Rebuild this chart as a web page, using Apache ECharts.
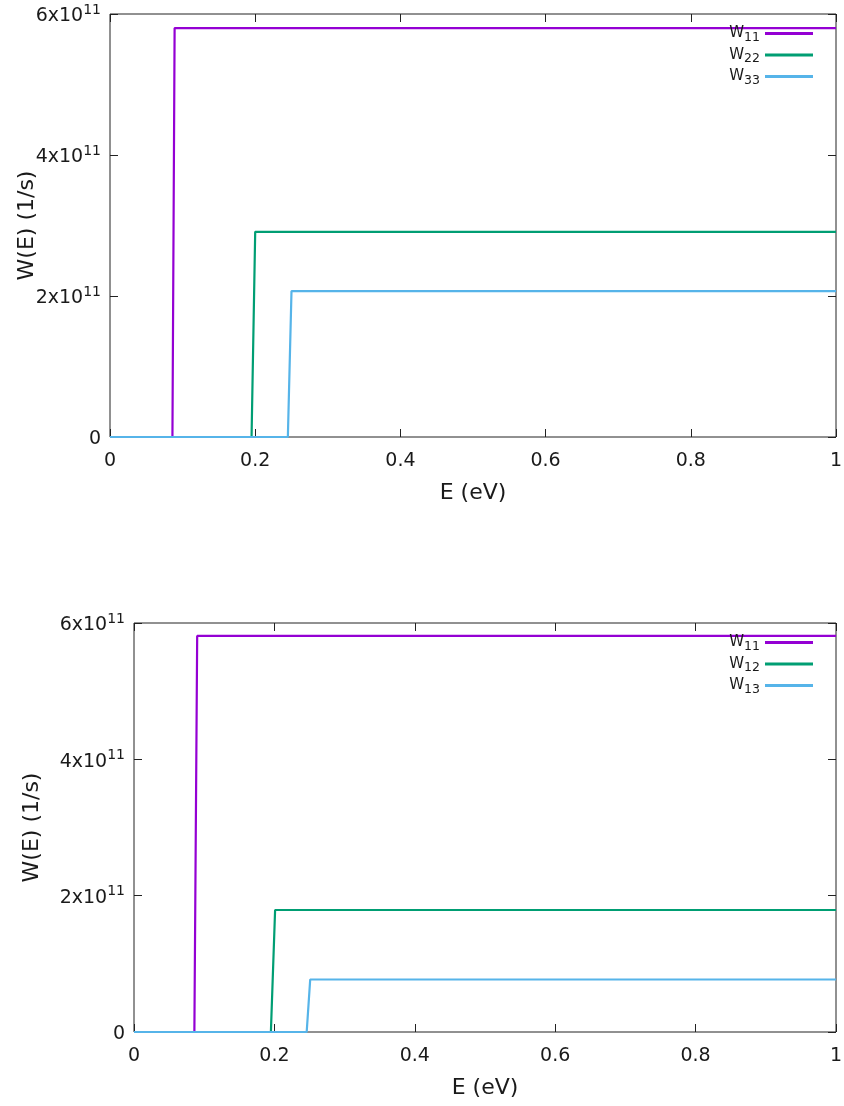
<!DOCTYPE html>
<html>
<head>
<meta charset="utf-8">
<style>
  html, body { margin: 0; padding: 0; background: #fff; }
  #chart { width: 844px; height: 1106px; }
</style>
<script src="https://cdn.jsdelivr.net/npm/echarts@6/dist/echarts.min.js"></script>
</head>
<body>
<div id="chart"></div>
<script>
// energy breakpoints (eV) and rates (1/s) for each step curve
const w11E = [0, 0.086, 0.089, 1]
const w11W = [0, 0, 5.8e11, 5.8e11]
const w22E = [0, 0.195, 0.2, 1]
const w22W = [0, 0, 2.91e11, 2.91e11]
const w33E = [0, 0.245, 0.25, 1]
const w33W = [0, 0, 2.07e11, 2.07e11]

const w11bE = [0, 0.086, 0.09, 1]
const w11bW = [0, 0, 5.81e11, 5.81e11]
const w12E = [0, 0.195, 0.201, 1]
const w12W = [0, 0, 1.79e11, 1.79e11]
const w13E = [0, 0.246, 0.251, 1]
const w13W = [0, 0, 0.77e11, 0.77e11]

const FONT = '"DejaVu Sans", Verdana, sans-serif'
const INK = '#1a1a1a'
const FRAME = '#222'
const COLORS = ['#9400d3', '#009e73', '#56b4e9']

const legendLabels = {
  W11: '{b|W}{s|11}', W22: '{b|W}{s|22}', W33: '{b|W}{s|33}',
  W11b: '{b|W}{s|11}', W12: '{b|W}{s|12}', W13: '{b|W}{s|13}'
}

const zip = (xs, ys) => xs.map((x, i) => [x, ys[i]])

const chart = echarts.init(document.getElementById('chart'))

const grids = [
  { left: 110, top: 14, right: 8, height: 423 },
  { left: 134, top: 623, right: 8, height: 409 }
].map(g => Object.assign({
  show: true,
  borderColor: FRAME,
  borderWidth: 1,
  backgroundColor: 'transparent',
  containLabel: false,
  outerBoundsMode: 'none'
}, g))

const tick = { inside: true, length: 8, lineStyle: { color: FRAME } }

function xAxes(gi) {
  const base = {
    type: 'value',
    gridIndex: gi,
    min: 0,
    max: 1,
    interval: 0.2,
    axisLine: { show: false, onZero: false },
    splitLine: { show: false },
    axisTick: tick
  }
  return [
    Object.assign({}, base, {
      position: 'bottom',
      name: 'E (eV)',
      nameLocation: 'middle',
      nameGap: 45,
      nameMoveOverlap: false,
      nameTextStyle: { fontFamily: FONT, fontSize: 22, color: INK },
      axisLabel: {
        margin: 15,
        fontFamily: FONT,
        fontSize: 19,
        color: INK,
        formatter: v => v.toFixed(1).replace('.0', '')
      }
    }),
    Object.assign({}, base, { position: 'top', axisLabel: { show: false } })
  ]
}

function yAxes(gi, gap) {
  const base = {
    type: 'value',
    gridIndex: gi,
    min: 0,
    max: 6e11,
    interval: 2e11,
    axisLine: { show: false, onZero: false },
    splitLine: { show: false },
    axisTick: tick
  }
  return [
    Object.assign({}, base, {
      position: 'left',
      name: 'W(E) (1/s)',
      nameLocation: 'middle',
      nameGap: gap,
      nameMoveOverlap: false,
      nameTextStyle: { fontFamily: FONT, fontSize: 22, color: INK },
      axisLabel: {
        margin: 9,
        color: INK,
        formatter: v => v === 0 ? '{m|0}' : `{m|${v / 1e11}x10}{sup|11}`,
        rich: {
          m: { fontFamily: FONT, fontSize: 19, color: INK, lineHeight: 19, padding: [5, 0, 0, 0] },
          sup: { fontFamily: FONT, fontSize: 14, color: INK, lineHeight: 14, padding: [1, 0, 9, 0] }
        }
      }
    }),
    Object.assign({}, base, { position: 'right', axisLabel: { show: false } })
  ]
}

function legend(names, top) {
  return {
    data: names,
    orient: 'vertical',
    align: 'right',
    right: 26,
    top,
    itemGap: 3.5,
    itemWidth: 48,
    itemHeight: 3,
    icon: 'rect',
    selectedMode: false,
    formatter: n => legendLabels[n],
    textStyle: {
      rich: {
        b: { fontFamily: FONT, fontSize: 15, color: INK, lineHeight: 21, verticalAlign: 'middle' },
        s: { fontFamily: FONT, fontSize: 12.5, color: INK, lineHeight: 12, verticalAlign: 'bottom' }
      }
    }
  }
}

function line(name, xi, yi, data, color) {
  return {
    name,
    type: 'line',
    xAxisIndex: xi,
    yAxisIndex: yi,
    data,
    symbol: 'none',
    silent: true,
    itemStyle: { color },
    lineStyle: { color, width: 2.2 }
  }
}

chart.setOption({
  animation: false,
  grid: grids,
  xAxis: [...xAxes(0), ...xAxes(1)],
  yAxis: [...yAxes(0, 72), ...yAxes(1, 91)],
  legend: [
    legend(['W11', 'W22', 'W33'], 21),
    legend(['W11b', 'W12', 'W13'], 630)
  ],
  series: [
    line('W11', 0, 0, zip(w11E, w11W), COLORS[0]),
    line('W22', 0, 0, zip(w22E, w22W), COLORS[1]),
    line('W33', 0, 0, zip(w33E, w33W), COLORS[2]),
    line('W11b', 2, 2, zip(w11bE, w11bW), COLORS[0]),
    line('W12', 2, 2, zip(w12E, w12W), COLORS[1]),
    line('W13', 2, 2, zip(w13E, w13W), COLORS[2])
  ]
})
</script>
</body>
</html>
